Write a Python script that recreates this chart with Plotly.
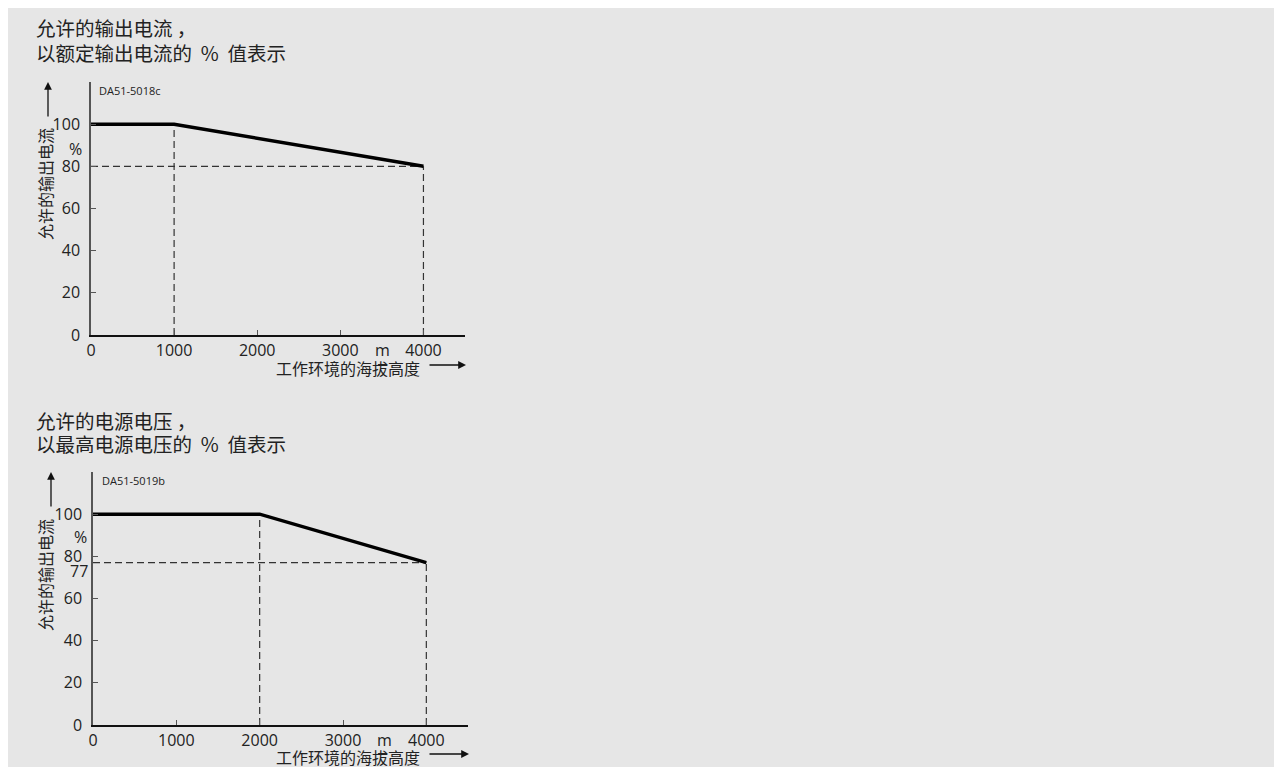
import plotly.graph_objects as go

# ---------------- data ----------------
alt_ticks = [0, 1000, 2000, 3000, 4000]
pct_ticks = [0, 20, 40, 60, 80, 100]

current_alt = [0, 1000, 4000]
current_pct = [100, 100, 80]

voltage_alt = [0, 2000, 4000]
voltage_pct = [100, 100, 77]

title1 = ["允许的输出电流 ，", "以额定输出电流的  %  值表示"]
title2 = ["允许的电源电压 ，", "以最高电源电压的  %  值表示"]
ytitle = "允许的输出电流"
xtitle = "工作环境的海拔高度"
code1 = "DA51-5018c"
code2 = "DA51-5019b"

# ---------------- geometry helpers ----------------
W, H = 1274, 759
OX, OY = 8, 8
def px(x):
    return (x - OX) / W
def py(y):
    return 1 - (y - OY) / H

CJK = "Noto Sans CJK SC"
LAT = "Open Sans"
TXT = "#222222"
BG = "#e6e6e6"

fig = go.Figure()

def add_chart(alts, pcts, xa, ya):
    knee_x = alts[1]
    end_x, end_y = alts[-1], pcts[-1]
    guides = [
        ([0, end_x], [end_y, end_y]),
        ([knee_x, knee_x], [0, pcts[1]]),
        ([end_x, end_x], [0, end_y]),
    ]
    for gx, gy in guides:
        fig.add_trace(go.Scatter(x=gx, y=gy, mode="lines", xaxis=xa, yaxis=ya,
                                 line=dict(color="#333333", width=1.2, dash="7px,4px"),
                                 hoverinfo="skip", showlegend=False))
    fig.add_trace(go.Scatter(x=alts, y=pcts, mode="lines", xaxis=xa, yaxis=ya,
                             line=dict(color="#000000", width=3.5),
                             showlegend=False))

add_chart(current_alt, current_pct, "x", "y")
add_chart(voltage_alt, voltage_pct, "x2", "y2")

xcommon = dict(range=[0, 4500], tickvals=alt_ticks, ticks="inside", ticklen=5,
               tickwidth=1, tickcolor="#555555", showline=True, linecolor="#111111",
               linewidth=1.5, showgrid=False, zeroline=False, automargin=False,
               ticklabelstandoff=0,
               tickfont=dict(family=LAT, size=16, color=TXT))
ycommon = dict(range=[0, 120], tickvals=pct_ticks, ticks="inside", ticklen=5,
               tickwidth=1, tickcolor="#555555", showline=True, linecolor="#555555",
               linewidth=1.5, showgrid=False, zeroline=False, automargin=False,
               ticklabelstandoff=6,
               tickfont=dict(family=LAT, size=16, color=TXT))

fig.update_layout(
    template="none",
    width=W, height=H,
    margin=dict(l=0, r=0, t=0, b=0, autoexpand=False),
    paper_bgcolor=BG, plot_bgcolor=BG,
    xaxis=dict(domain=[px(91), px(465)], anchor="y", **xcommon),
    yaxis=dict(domain=[py(335), py(82)], anchor="x", **ycommon),
    xaxis2=dict(domain=[px(93), px(468)], anchor="y2", **xcommon),
    yaxis2=dict(domain=[py(725), py(472)], anchor="x2", **ycommon),
)

anns = []
def text(x, y, s, size, family, xanchor="left", angle=0):
    shift = {"left": -3, "right": 3, "center": 0}[xanchor]
    anns.append(dict(x=px(x + shift), y=py(y), xref="paper", yref="paper", text=s,
                     showarrow=False, xanchor=xanchor, yanchor="middle",
                     textangle=angle, font=dict(family=family, size=size, color=TXT)))

def arrow(hx, hy, tx, ty):
    anns.append(dict(x=px(hx), y=py(hy), xref="paper", yref="paper", text="",
                     showarrow=True, ax=tx - hx, ay=ty - hy, arrowhead=2,
                     arrowsize=1.2, arrowwidth=1.3, arrowcolor="#111111"))

# chart 1
text(37, 28, title1[0], 19.5, CJK)
text(37, 52, title1[1], 19.5, CJK)
text(100, 90, code1, 11, LAT)
text(45, 184, ytitle, 16, CJK, xanchor="center", angle=-90)
arrow(48, 82, 48, 118)
text(75, 149, "%", 16, LAT, xanchor="center")
text(382, 350, "m", 16, LAT, xanchor="center")
text(348, 368, xtitle, 16, CJK, xanchor="center")
arrow(466, 365, 428, 365)

# chart 2
text(37, 420, title2[0], 19.5, CJK)
text(37, 443, title2[1], 19.5, CJK)
text(103, 480, code2, 11, LAT)
text(45, 575, ytitle, 16, CJK, xanchor="center", angle=-90)
arrow(51, 472, 51, 508)
text(80, 537, "%", 16, LAT, xanchor="center")
text(87, 571, str(voltage_pct[-1]), 16, LAT, xanchor="right")
text(384, 740, "m", 16, LAT, xanchor="center")
text(348, 757, xtitle, 16, CJK, xanchor="center")
arrow(469, 754, 428, 754)

fig.update_layout(annotations=anns)
fig.write_html("out.html")
